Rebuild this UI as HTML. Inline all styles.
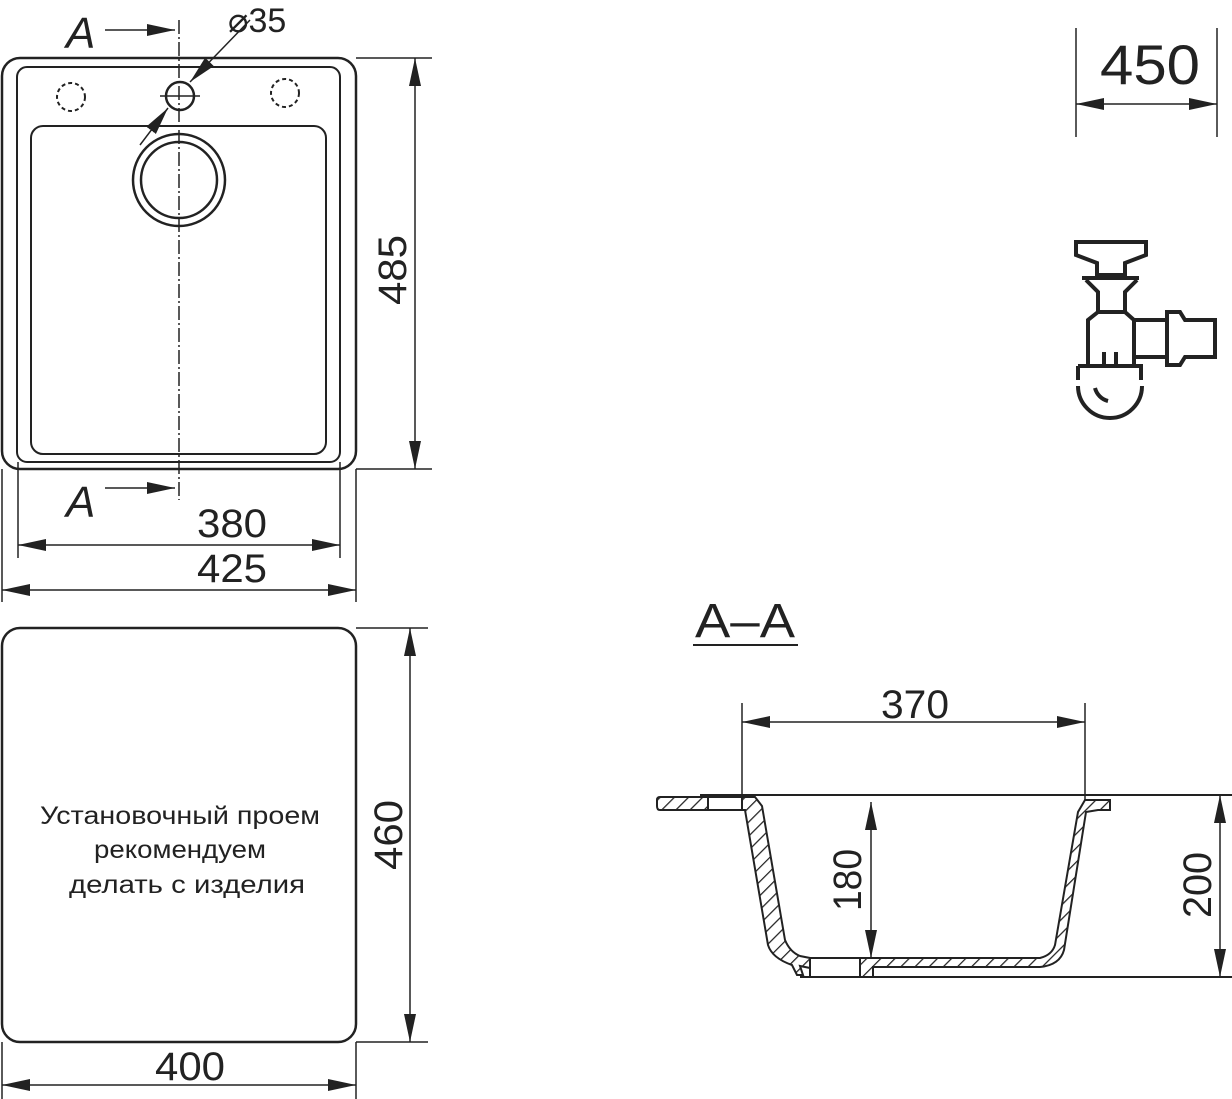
<!DOCTYPE html>
<html><head><meta charset="utf-8"><style>
html,body{margin:0;padding:0;background:#fff}
svg{display:block}
text{font-family:"Liberation Sans",sans-serif;fill:#222}
</style></head><body>
<svg width="1232" height="1099" viewBox="0 0 1232 1099" xmlns="http://www.w3.org/2000/svg">
<defs>
<marker id="ar" viewBox="0 0 28 12" refX="28" refY="6" markerWidth="28" markerHeight="12" markerUnits="userSpaceOnUse" orient="auto-start-reverse"><path d="M0,0 L28,6 L0,12 Z" fill="#222"/></marker>
<pattern id="h" width="10" height="10" patternUnits="userSpaceOnUse" patternTransform="rotate(45)"><rect width="10" height="10" fill="#fff"/><line x1="0" y1="0" x2="0" y2="10" stroke="#222" stroke-width="2.5"/></pattern>
</defs>
<g fill="none" stroke="#222" stroke-width="2">
<rect x="2" y="58" width="354" height="411" rx="18" stroke-width="2.5"/>
<rect x="17" y="67" width="323" height="395" rx="10"/>
<rect x="31" y="126" width="295" height="328" rx="12"/>
<circle cx="179" cy="180" r="46" stroke-width="2.5"/>
<circle cx="179" cy="180" r="38" stroke-width="2.5"/>
<circle cx="180" cy="96" r="14" stroke-width="2.5"/>
<circle cx="71" cy="97" r="14" stroke-dasharray="4 3"/>
<circle cx="285" cy="93" r="14" stroke-dasharray="4 3"/>
<line x1="179" y1="20" x2="179" y2="500" stroke-width="1.5" stroke-dasharray="14 3 2 3"/>
<line x1="160" y1="96" x2="200" y2="96" stroke-width="1.5"/>
<line x1="105" y1="30" x2="175" y2="30" stroke-width="1.5" marker-end="url(#ar)"/>
<line x1="105" y1="488" x2="175" y2="488" stroke-width="1.5" marker-end="url(#ar)"/>
<line x1="250" y1="20" x2="190" y2="82" stroke-width="1.5" marker-end="url(#ar)"/>
<line x1="140" y1="145" x2="168" y2="108" stroke-width="1.5" marker-end="url(#ar)"/>
<line x1="356" y1="58" x2="432" y2="58" stroke-width="1.5"/>
<line x1="356" y1="469" x2="432" y2="469" stroke-width="1.5"/>
<line x1="415" y1="58" x2="415" y2="469" stroke-width="1.5" marker-start="url(#ar)" marker-end="url(#ar)"/>
<line x1="18" y1="462" x2="18" y2="558" stroke-width="1.5"/>
<line x1="340" y1="462" x2="340" y2="558" stroke-width="1.5"/>
<line x1="2" y1="469" x2="2" y2="602" stroke-width="1.5"/>
<line x1="356" y1="469" x2="356" y2="602" stroke-width="1.5"/>
<line x1="18" y1="545" x2="340" y2="545" stroke-width="1.5" marker-start="url(#ar)" marker-end="url(#ar)"/>
<line x1="2" y1="590" x2="356" y2="590" stroke-width="1.5" marker-start="url(#ar)" marker-end="url(#ar)"/>
<rect x="2" y="628" width="354" height="414" rx="18" stroke-width="2.5"/>
<line x1="356" y1="628" x2="428" y2="628" stroke-width="1.5"/>
<line x1="356" y1="1042" x2="428" y2="1042" stroke-width="1.5"/>
<line x1="410" y1="628" x2="410" y2="1042" stroke-width="1.5" marker-start="url(#ar)" marker-end="url(#ar)"/>
<line x1="2" y1="1042" x2="2" y2="1099" stroke-width="1.5"/>
<line x1="356" y1="1042" x2="356" y2="1099" stroke-width="1.5"/>
<line x1="2" y1="1085" x2="356" y2="1085" stroke-width="1.5" marker-start="url(#ar)" marker-end="url(#ar)"/>
<line x1="1076" y1="28" x2="1076" y2="137" stroke-width="1.5"/>
<line x1="1217" y1="28" x2="1217" y2="137" stroke-width="1.5"/>
<line x1="1076" y1="104" x2="1217" y2="104" stroke-width="1.5" marker-start="url(#ar)" marker-end="url(#ar)"/>
<g stroke-width="4" stroke-linejoin="miter">
<path d="M1076,242 H1146 V255 L1125,263 V275 H1097 V263 L1076,255 Z"/>
<line x1="1082" y1="278" x2="1139" y2="278"/>
<path d="M1086,280 L1098,292 V312 M1137,280 L1125,292 V312"/>
<path d="M1098,312 H1125 L1134,320 V367 M1098,312 L1088,320 V367"/>
<path d="M1134,320 H1167 M1134,357 H1167"/>
<path d="M1167,312 H1180 L1185,320 H1215 V357 H1185 L1180,365 H1167 Z"/>
<path d="M1104,352 V366 M1116,352 V366"/>
<path d="M1078,366 H1141 V380"/>
<path d="M1078,366 V380"/>
<path d="M1078,386 A32,32 0 0 0 1142,386"/>
<path d="M1095,388 A18,18 0 0 0 1108,401"/>
</g>
<line x1="693" y1="645" x2="798" y2="645" stroke-width="2"/>
<line x1="742" y1="703" x2="742" y2="800" stroke-width="1.5"/>
<line x1="1085" y1="703" x2="1085" y2="800" stroke-width="1.5"/>
<line x1="742" y1="722" x2="1085" y2="722" stroke-width="1.5" marker-start="url(#ar)" marker-end="url(#ar)"/>
<line x1="700" y1="795" x2="1232" y2="795" stroke-width="2"/>
<line x1="800" y1="977" x2="1232" y2="977" stroke-width="2"/>
<line x1="1220" y1="795" x2="1220" y2="977" stroke-width="1.5" marker-start="url(#ar)" marker-end="url(#ar)"/>
<line x1="871" y1="802" x2="871" y2="958" stroke-width="1.5" marker-start="url(#ar)" marker-end="url(#ar)"/>
<g stroke-width="2">
<path d="M660,797 H708 V810 H660 Q657,810 657,806 V800 Q657,797 660,797 Z" fill="url(#h)"/>
<rect x="708" y="797" width="34" height="13" fill="#fff"/>
<path d="M742,797 H755 L762,806 L785,940 Q790,952 800,956 L810,958 V968 L800,966 L803,975 L797,975 L792,965 Q772,958 768,945 L745,810 L742,810 Z" fill="url(#h)"/>
<rect x="810" y="958" width="50" height="19" fill="#fff"/>
<path d="M860,958 H1040 Q1052,955 1055,945 L1078,812 L1085,800 H1110 V810 L1098,810 L1086,812 L1064,950 Q1060,965 1040,967 H873 V977 H860 Z" fill="url(#h)"/>
</g>
</g>
<g font-size="40">
<text x="66" y="48" font-style="italic" font-size="44">A</text>
<text x="66" y="517" font-style="italic" font-size="44">A</text>
<text x="228" y="32" font-size="34">⌀35</text>
<text x="232" y="537" text-anchor="middle" font-size="40" textLength="70" lengthAdjust="spacingAndGlyphs">380</text>
<text x="232" y="582" text-anchor="middle" font-size="40" textLength="70" lengthAdjust="spacingAndGlyphs">425</text>
<text transform="translate(406,270) rotate(-90)" text-anchor="middle" font-size="40" textLength="70" lengthAdjust="spacingAndGlyphs">485</text>
<text transform="translate(402,835) rotate(-90)" text-anchor="middle" font-size="40" textLength="70" lengthAdjust="spacingAndGlyphs">460</text>
<text x="190" y="1080" text-anchor="middle" font-size="40" textLength="70" lengthAdjust="spacingAndGlyphs">400</text>
<text x="1150" y="84" text-anchor="middle" font-size="56" textLength="100" lengthAdjust="spacingAndGlyphs">450</text>
<text x="745" y="637" text-anchor="middle" font-size="48" textLength="100" lengthAdjust="spacingAndGlyphs">A–A</text>
<text x="915" y="718" text-anchor="middle" font-size="40" textLength="68" lengthAdjust="spacingAndGlyphs">370</text>
<text transform="translate(861,880) rotate(-90)" text-anchor="middle" font-size="40" textLength="62" lengthAdjust="spacingAndGlyphs">180</text>
<text transform="translate(1211,885) rotate(-90)" text-anchor="middle" font-size="40" textLength="66" lengthAdjust="spacingAndGlyphs">200</text>
</g>
<g font-size="25" text-anchor="middle">
<text x="180" y="824" textLength="280" lengthAdjust="spacingAndGlyphs">Установочный проем</text>
<text x="180" y="858" textLength="172" lengthAdjust="spacingAndGlyphs">рекомендуем</text>
<text x="187" y="893" textLength="236" lengthAdjust="spacingAndGlyphs">делать с изделия</text>
</g>
</svg>
</body></html>
